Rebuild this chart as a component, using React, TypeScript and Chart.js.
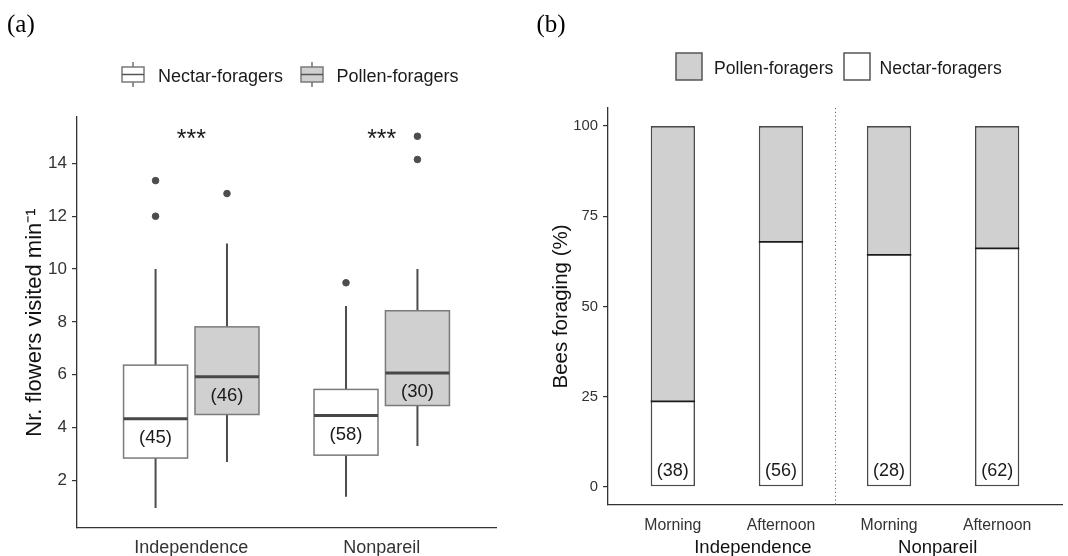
import React, { useEffect, useRef } from "react";
import { Chart, registerables } from "chart.js";
Chart.register(...registerables);

const FONT = "'Liberation Sans', Arial, Helvetica, sans-serif";
const SERIF = "'Liberation Serif', 'Times New Roman', serif";

// ---------- Panel (a): box plots ----------
const sites = ["Independence", "Nonpareil"];
const foragerGroups = ["Nectar-foragers", "Pollen-foragers"];
const nectarWhiskerLow = [0.95, 1.37];
const nectarQ1 = [2.84, 2.95];
const nectarMedian = [4.33, 4.45];
const nectarQ3 = [6.36, 5.44];
const nectarWhiskerHigh = [10.0, 8.6];
const nectarOutliers = [[12.0, 13.35], [9.48]];
const pollenWhiskerLow = [2.69, 3.3];
const pollenQ1 = [4.49, 4.83];
const pollenMedian = [5.92, 6.06];
const pollenQ3 = [7.81, 8.42];
const pollenWhiskerHigh = [10.97, 10.0];
const pollenOutliers = [[12.86], [14.15, 15.03]];
const nectarN = [45, 58];
const pollenN = [46, 30];
const significance = ["***", "***"];
const yTicksA = [2, 4, 6, 8, 10, 12, 14];

// ---------- Panel (b): stacked percentage bars ----------
const periods = ["Morning", "Afternoon", "Morning", "Afternoon"];
const periodSites = ["Independence", "Nonpareil"];
const nectarPct = [23.7, 67.9, 64.3, 66.1];
const pollenPct = [76.3, 32.1, 35.7, 33.9];
const beesN = [38, 56, 28, 62];
const yTicksB = [0, 25, 50, 75, 100];

const DODGE = 0.1875;
const BOX_HALF = 0.168;
const BAR_HALF = 0.205;
const WHITE = "#ffffff";
const GREY = "#cfd0cf";
const TICK_COLOR = "#333333";

function drawBoxGlyph(ctx: CanvasRenderingContext2D, x: number, y: number, fill: string) {
  const w = 22, h = 15, cx = x + w / 2;
  ctx.strokeStyle = "#4d4d4d";
  ctx.lineWidth = 1.2;
  ctx.beginPath();
  ctx.moveTo(cx, y - 5); ctx.lineTo(cx, y);
  ctx.moveTo(cx, y + h); ctx.lineTo(cx, y + h + 5);
  ctx.stroke();
  ctx.fillStyle = fill;
  ctx.fillRect(x, y, w, h);
  ctx.strokeStyle = "#7a7a7a";
  ctx.lineWidth = 1.5;
  ctx.strokeRect(x, y, w, h);
  ctx.strokeStyle = "#555555";
  ctx.lineWidth = 1.5;
  ctx.beginPath();
  ctx.moveTo(x, y + h / 2); ctx.lineTo(x + w, y + h / 2);
  ctx.stroke();
}

const boxPlugin = {
  id: "boxplots",
  beforeDatasetsDraw(chart: any) {
    const { ctx, scales } = chart;
    const x = scales.x, y = scales.y;
    const halfW = x.getPixelForValue(1 + BOX_HALF) - x.getPixelForValue(1);
    const groups = [
      { off: -DODGE, fill: WHITE, low: nectarWhiskerLow, q1: nectarQ1, med: nectarMedian, q3: nectarQ3, high: nectarWhiskerHigh, n: nectarN },
      { off: DODGE, fill: GREY, low: pollenWhiskerLow, q1: pollenQ1, med: pollenMedian, q3: pollenQ3, high: pollenWhiskerHigh, n: pollenN },
    ];
    ctx.save();
    sites.forEach((_, i) => {
      groups.forEach((g) => {
        const cx = x.getPixelForValue(i + 1 + g.off);
        const top = y.getPixelForValue(g.q3[i]);
        const bot = y.getPixelForValue(g.q1[i]);
        ctx.strokeStyle = "#4d4d4d";
        ctx.lineWidth = 2;
        ctx.beginPath();
        ctx.moveTo(cx, y.getPixelForValue(g.high[i]));
        ctx.lineTo(cx, top);
        ctx.moveTo(cx, bot);
        ctx.lineTo(cx, y.getPixelForValue(g.low[i]));
        ctx.stroke();
        ctx.fillStyle = g.fill;
        ctx.fillRect(cx - halfW, top, 2 * halfW, bot - top);
        ctx.strokeStyle = "#7a7a7a";
        ctx.lineWidth = 1.5;
        ctx.strokeRect(cx - halfW, top, 2 * halfW, bot - top);
        const my = y.getPixelForValue(g.med[i]);
        ctx.strokeStyle = "#474747";
        ctx.lineWidth = 3;
        ctx.beginPath();
        ctx.moveTo(cx - halfW, my);
        ctx.lineTo(cx + halfW, my);
        ctx.stroke();
        ctx.fillStyle = "#1a1a1a";
        ctx.font = `18.5px ${FONT}`;
        ctx.textAlign = "center";
        ctx.textBaseline = "middle";
        ctx.fillText(`(${g.n[i]})`, cx, y.getPixelForValue(g.med[i] - 0.72));
      });
      ctx.fillStyle = "#1a1a1a";
      ctx.font = `25px ${FONT}`;
      ctx.textAlign = "center";
      ctx.textBaseline = "alphabetic";
      ctx.fillText(significance[i], x.getPixelForValue(i + 1), y.getPixelForValue(15.17) + 14);
    });
    ctx.textAlign = "left";
    ctx.textBaseline = "middle";
    ctx.font = `18px ${FONT}`;
    drawBoxGlyph(ctx, 122, 67, WHITE);
    ctx.fillStyle = "#1a1a1a";
    ctx.fillText(foragerGroups[0], 158, 77.5);
    drawBoxGlyph(ctx, 301, 67, GREY);
    ctx.fillStyle = "#1a1a1a";
    ctx.fillText(foragerGroups[1], 336.5, 77.5);
    ctx.font = `25px ${SERIF}`;
    ctx.textBaseline = "alphabetic";
    ctx.fillStyle = "#000";
    ctx.fillText("(a)", 7, 32);
    ctx.restore();
  },
};

const barPlugin = {
  id: "barExtras",
  afterDatasetsDraw(chart: any) {
    const { ctx, scales, chartArea } = chart;
    const x = scales.x, y = scales.y;
    ctx.save();
    // boundary between nectar and pollen segments
    ctx.strokeStyle = "#1a1a1a";
    ctx.lineWidth = 1.6;
    nectarPct.forEach((v, i) => {
      const yy = y.getPixelForValue(v);
      ctx.beginPath();
      ctx.moveTo(x.getPixelForValue(i + 1 - BAR_HALF), yy);
      ctx.lineTo(x.getPixelForValue(i + 1 + BAR_HALF), yy);
      ctx.stroke();
    });
    // dotted separator
    ctx.strokeStyle = "#6a6a6a";
    ctx.lineWidth = 1;
    ctx.setLineDash([1.2, 2.6]);
    const sx = Math.round(x.getPixelForValue(2.5)) + 0.5;
    ctx.beginPath();
    ctx.moveTo(sx, chartArea.top);
    ctx.lineTo(sx, chartArea.bottom);
    ctx.stroke();
    ctx.setLineDash([]);
    // n labels
    ctx.fillStyle = "#1a1a1a";
    ctx.font = `18px ${FONT}`;
    ctx.textAlign = "center";
    ctx.textBaseline = "middle";
    beesN.forEach((n, i) => {
      ctx.fillText(`(${n})`, x.getPixelForValue(i + 1), y.getPixelForValue(4.35));
    });
    // site labels below period ticks
    ctx.font = `18.5px ${FONT}`;
    ctx.fillStyle = "#111";
    ctx.textBaseline = "alphabetic";
    ctx.fillText(periodSites[0], x.getPixelForValue(1.74), 553);
    ctx.fillText(periodSites[1], x.getPixelForValue(3.45), 553);
    // legend (Pollen first, then Nectar)
    const drawKey = (kx: number, fill: string, label: string, tx: number) => {
      ctx.fillStyle = fill;
      ctx.fillRect(kx, 53, 26, 27);
      ctx.strokeStyle = "#555";
      ctx.lineWidth = 1.5;
      ctx.strokeRect(kx, 53, 26, 27);
      ctx.fillStyle = "#1a1a1a";
      ctx.font = `17.6px ${FONT}`;
      ctx.textAlign = "left";
      ctx.textBaseline = "middle";
      ctx.fillText(label, tx, 69);
    };
    drawKey(142, GREY, chart.data.datasets[1].label, 180);
    drawKey(310, WHITE, chart.data.datasets[0].label, 345.5);
    ctx.font = `25px ${SERIF}`;
    ctx.textAlign = "left";
    ctx.textBaseline = "alphabetic";
    ctx.fillStyle = "#000";
    ctx.fillText("(b)", 2.5, 32);
    ctx.restore();
  },
};

export default function App() {
  const refA = useRef<HTMLCanvasElement>(null);
  const refB = useRef<HTMLCanvasElement>(null);

  useEffect(() => {
    document.body.style.margin = "0";
    Chart.defaults.font.family = FONT;

    const outlierPoints = (lists: number[][], off: number) =>
      lists.flatMap((vals, i) => vals.map((v) => ({ x: i + 1 + off, y: v })));

    const chartA = new Chart(refA.current!, {
      type: "scatter",
      data: {
        datasets: [
          {
            label: "Nectar outliers",
            data: outlierPoints(nectarOutliers, -DODGE),
            backgroundColor: "#4d4d4d",
            borderColor: "#4d4d4d",
            pointRadius: 3.3,
          },
          {
            label: "Pollen outliers",
            data: outlierPoints(pollenOutliers, DODGE),
            backgroundColor: "#4d4d4d",
            borderColor: "#4d4d4d",
            pointRadius: 3.3,
          },
        ],
      },
      options: {
        animation: false,
        responsive: false,
        layout: { padding: { top: 117, right: 38, left: 0, bottom: 0 } },
        plugins: { legend: { display: false }, tooltip: { enabled: false } },
        scales: {
          x: {
            type: "linear",
            min: 0.4,
            max: 2.6,
            grid: { display: false, drawTicks: false, tickLength: 0 },
            border: { display: true, color: "#333", width: 1.3 },
            afterBuildTicks: (s: any) => { s.ticks = sites.map((_, i) => ({ value: i + 1 })); },
            afterFit: (s: any) => { s.height = 28; },
            ticks: {
              autoSkip: false,
              maxRotation: 0,
              padding: 9,
              color: TICK_COLOR,
              font: { size: 18, family: FONT },
              callback: (v: any) => sites[Number(v) - 1] ?? "",
            },
          },
          y: {
            type: "linear",
            min: 0.19,
            max: 15.76,
            grid: { display: true, drawOnChartArea: false, drawTicks: true, tickLength: 5, color: "#333", lineWidth: 1.2 },
            border: { display: true, color: "#333", width: 1.3 },
            afterBuildTicks: (s: any) => { s.ticks = yTicksA.map((v) => ({ value: v })); },
            afterFit: (s: any) => { s.width = 77; },
            ticks: { padding: 5, color: TICK_COLOR, font: { size: 17, family: FONT } },
            title: {
              display: true,
              text: "Nr. flowers visited min\u207B\u00B9",
              color: "#111",
              font: { size: 22, family: FONT },
              padding: { top: 22, bottom: 0 },
            },
          },
        },
      },
      plugins: [boxPlugin],
    } as any);

    const chartB = new Chart(refB.current!, {
      type: "bar",
      data: {
        datasets: [
          {
            label: "Nectar-foragers",
            data: nectarPct.map((v, i) => ({ x: i + 1, y: v })),
            backgroundColor: WHITE,
            borderColor: "#4a4a4a",
            borderWidth: { top: 0, left: 1.6, right: 1.6, bottom: 1.6 },
            borderSkipped: false,
            barPercentage: BAR_HALF * 2,
            categoryPercentage: 1,
          },
          {
            label: "Pollen-foragers",
            data: pollenPct.map((v, i) => ({ x: i + 1, y: v })),
            backgroundColor: GREY,
            borderColor: "#4a4a4a",
            borderWidth: { top: 1.6, left: 1.6, right: 1.6, bottom: 0 },
            borderSkipped: false,
            barPercentage: BAR_HALF * 2,
            categoryPercentage: 1,
          },
        ],
      },
      options: {
        animation: false,
        responsive: false,
        layout: { padding: { top: 108, right: 6, left: 0, bottom: 0 } },
        plugins: { legend: { display: false }, tooltip: { enabled: false } },
        scales: {
          x: {
            type: "linear",
            stacked: true,
            offset: false,
            min: 0.4,
            max: 4.6,
            grid: { display: false, drawTicks: false, tickLength: 0 },
            border: { display: true, color: "#333", width: 1.3 },
            afterBuildTicks: (s: any) => { s.ticks = periods.map((_, i) => ({ value: i + 1 })); },
            afterFit: (s: any) => { s.height = 51; },
            ticks: {
              autoSkip: false,
              maxRotation: 0,
              padding: 11,
              color: TICK_COLOR,
              font: { size: 15.8, family: FONT },
              callback: (v: any) => periods[Number(v) - 1] ?? "",
            },
          },
          y: {
            type: "linear",
            stacked: true,
            min: -5,
            max: 105,
            grid: { display: true, drawOnChartArea: false, drawTicks: true, tickLength: 5, color: "#333", lineWidth: 1.2 },
            border: { display: true, color: "#333", width: 1.3 },
            afterBuildTicks: (s: any) => { s.ticks = yTicksB.map((v) => ({ value: v })); },
            afterFit: (s: any) => { s.width = 74; },
            ticks: { padding: 5, color: TICK_COLOR, font: { size: 14.8, family: FONT } },
            title: {
              display: true,
              text: "Bees foraging (%)",
              color: "#111",
              font: { size: 20.5, family: FONT },
              padding: { top: 15, bottom: 0 },
            },
          },
        },
      },
      plugins: [barPlugin],
    } as any);

    return () => {
      chartA.destroy();
      chartB.destroy();
    };
  }, []);

  return (
    <div style={{ position: "absolute", left: 0, top: 0, width: 1068, height: 556, background: "#fff", display: "flex" }}>
      <canvas ref={refA} width={534} height={556} style={{ display: "block", width: 534, height: 556 }} />
      <canvas ref={refB} width={534} height={556} style={{ display: "block", width: 534, height: 556 }} />
    </div>
  );
}
